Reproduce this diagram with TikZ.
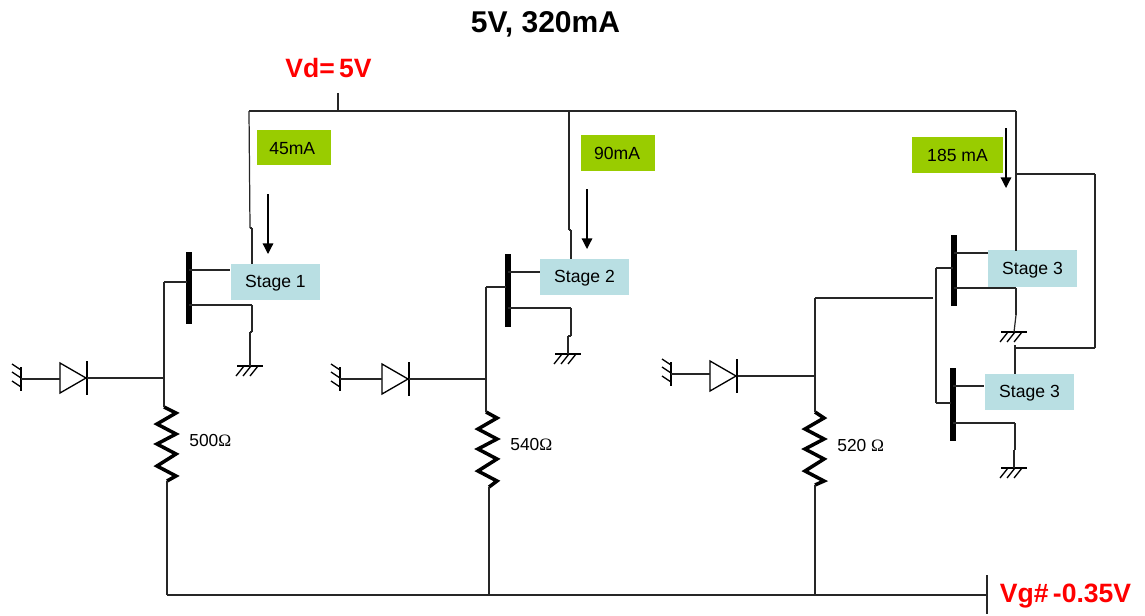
\documentclass[tikz,border=0pt]{standalone}
\usepackage{fontspec}
\setmainfont{Liberation Sans}
\newfontfamily\ohmfont{Liberation Serif}
\usetikzlibrary{arrows.meta}
\definecolor{labelgreen}{HTML}{99CC00}
\definecolor{stageblue}{HTML}{B9DFE3}
\tikzstyle{wire} = [draw,line width=0.7pt,black!85]
\tikzstyle{gatebar} = [draw,line width=3pt,black]
\tikzstyle{resistor} = [draw,line width=2pt,black,line join=miter]
\tikzstyle{current} = [draw,line width=0.7pt,-{Triangle[length=6pt,width=6pt]}]
\tikzstyle{stagebox} = [fill=stageblue,minimum width=51pt,minimum height=20.5pt,inner sep=0pt,text height=6.8pt,text depth=0pt,font=\fontsize{10}{11}\selectfont]
\tikzstyle{currentbox} = [fill=labelgreen,minimum height=20pt,inner sep=0pt,text height=7.5pt,text depth=0pt,font=\fontsize{10}{11}\selectfont]
\tikzstyle{value} = [font=\fontsize{9.9}{11}\selectfont,anchor=west,inner sep=0pt]
\tikzstyle{rail} = [font=\bfseries\fontsize{15.1}{17}\selectfont,text=red,inner sep=0pt,text height=10.8pt,text depth=0pt]
\tikzset{
  groundmark/.pic={
    \draw[line width=0.75pt] (-13,0) -- (13,0);
    \foreach \x in {-6,1,8} \draw[line width=0.75pt] (\x,0) -- ++(-8,10);
  },
  sidemark/.pic={
    \draw[line width=0.75pt] (0,-12) -- (0,12);
    \foreach \y in {-9,-1,8} \draw[line width=0.75pt] (0,\y) -- ++(-9,-6);
  },
  diodemark/.pic={
    \draw[line width=0.75pt] (0,-15) -- (0,15) -- (26,0) -- cycle;
    \draw[line width=0.75pt] (27,-17) -- (27,17);
  }
}
\begin{document}
\begin{tikzpicture}[x=0.02cm,y=-0.02cm]
    \useasboundingbox (0,0) rectangle (1145,615);
    % First we draw the labels
    \node[inner sep=0pt,text height=12.2pt,text depth=0pt,font=\bfseries\fontsize{17.1}{18}\selectfont] (title) at (545.5,22) {5V, 320mA};
    \node[rail] (vd) at (328.5,68.5) {Vd=\,5V};
    \node[rail] (vg) at (1065.5,593.5) {Vg\#\,-0.35V};

    \foreach \pos/\name/\label in {{(275.5,282)/stageA/Stage 1}, {(584.5,277)/stageB/Stage 2},
    {(1032.5,268.5)/stageC/Stage 3}, {(1029.5,392)/stageD/Stage 3}}
        \node[stagebox] (\name) at \pos {\label};

    \node[currentbox,minimum width=42pt] (iA) at (294,147.5) {\kern-2pt 45mA};
    \node[currentbox,minimum width=42pt] (iB) at (618,153) {\kern-1pt 90mA};
    \node[currentbox,minimum width=51.5pt] (iC) at (957.5,155) {185 mA};

    \node[value] (ohmA) at (189,441) {500{\ohmfont Ω}};
    \node[value] (ohmB) at (510,445) {540{\ohmfont Ω}};
    \node[value] (ohmC) at (837,446) {520 {\ohmfont Ω}};

    % Then the named points of the network
    \foreach \pos/\name in {{(338,93)/vdend}, {(338,111)/vdtap}, {(249,111)/topA}, {(569,111)/topB}, {(1016,111)/topC},
    {(250,228)/jogAt}, {(252,228)/jogAb}, {(252,264)/drainA},
    {(569,230)/jogBt}, {(571,230)/jogBb}, {(571,259)/drainB},
    {(1016,251)/drainC}, {(1015,374)/drainD},
    {(189,252)/barAt}, {(189,324)/barAb}, {(508,254)/barBt}, {(508,327)/barBb},
    {(954,235)/barCt}, {(954,306)/barCb}, {(953,368)/barDt}, {(953,441)/barDb},
    {(189,270)/dA}, {(230,270)/dAe}, {(508,272)/dB}, {(540,272)/dBe},
    {(954,253)/dC}, {(988,253)/dCe}, {(953,386)/dD}, {(984,386)/dDe},
    {(189,305)/sA}, {(252,305)/sAc}, {(252,332)/jogAs}, {(250,332)/jogAg}, {(250,366)/gndA},
    {(508,308)/sB}, {(571,308)/sBc}, {(571,336)/jogBs}, {(568,336)/jogBg}, {(568,354)/gndB},
    {(954,288)/sC}, {(1016,288)/sCc}, {(1016,315)/jogCs}, {(1014,332)/gndC},
    {(953,423)/sD}, {(1015,423)/sDc}, {(1015,450)/jogDs}, {(1014,450)/jogDg}, {(1014,468)/gndD},
    {(187,282)/gA}, {(164,282)/gAc}, {(164,378)/jA},
    {(506,287)/gB}, {(486,287)/gBc}, {(486,379)/jB},
    {(953,268)/gC}, {(936,268)/gCc}, {(936,403)/gDc}, {(951,403)/gD},
    {(933,298)/gE}, {(815,298)/gEc}, {(815,376)/jC},
    {(164,407)/rAt}, {(167,481)/rAb}, {(486,412)/rBt}, {(489,487)/rBb}, {(815,412)/rCt}, {(815,485)/rCb},
    {(167,595)/botA}, {(489,595)/botB}, {(815,595)/botC}, {(987,595)/botD}, {(987,575)/vgt}, {(987,614)/vgb},
    {(1017,174)/loopA}, {(1095,174)/loopB}, {(1095,348)/loopC}, {(1015,348)/loopD}, {(1015,345)/loopE},
    {(87,378)/cathA}, {(409,379)/cathB}, {(738,376)/cathC},
    {(60,378)/anodeA}, {(382,379)/anodeB}, {(710,376)/anodeC},
    {(60,379)/inA}, {(382,379)/inB}, {(710,374)/inC},
    {(21,379)/sideA}, {(340,379)/sideB}, {(671,374)/sideC},
    {(268,194)/aAt}, {(268,254)/aAb}, {(587,189)/aBt}, {(587,249)/aBb}, {(1006,128)/aCt}, {(1006,188)/aCb}}
        \node[coordinate] (\name) at \pos {};

    % Draw the symbols
    \foreach \a in {A,B,C}
        \pic at (anode\a) {diodemark};
    \foreach \a in {A,B,C}
        \pic at (side\a) {sidemark};
    \foreach \a in {A,B,C,D}
        \pic at (gnd\a) {groundmark};
    \foreach \a in {A,B,C,D}
        \path[gatebar] (bar\a t) -- (bar\a b);
    \foreach \a/\dx in {A/12,B/11,C/9}
        \path[resistor] (r\a t) -- ++(\dx,6) -- ++(-19,11) -- ++(19,10) -- ++(-19,10) -- ++(19,10) -- ++(-19,12) -- ++(19,10) -- (r\a b);

    % Connect points with wires
    \foreach \source/ \dest in {topA/topC, vdend/vdtap, topA/jogAt, jogAt/jogAb, jogAb/drainA,
    topB/jogBt, jogBt/jogBb, jogBb/drainB, topC/drainC, loopE/drainD,
    dA/dAe, dB/dBe, dC/dCe, dD/dDe, sA/sAc, sAc/jogAs, jogAs/jogAg, jogAg/gndA,
    sB/sBc, sBc/jogBs, jogBs/jogBg, jogBg/gndB, sC/sCc, sCc/jogCs, jogCs/gndC,
    sD/sDc, sDc/jogDs, jogDs/jogDg, jogDg/gndD,
    gA/gAc, gAc/jA, jA/rAt, gB/gBc, gBc/jB, jB/rBt, gC/gCc, gCc/gDc, gDc/gD, gE/gEc, gEc/jC, jC/rCt,
    rAb/botA, rBb/botB, rCb/botC, botA/botD, vgt/vgb,
    loopA/loopB, loopB/loopC, loopC/loopD,
    cathA/jA, cathB/jB, cathC/jC, sideA/inA, sideB/inB, sideC/inC}
        \path[wire] (\source) -- (\dest);

    % Current arrows
    \foreach \a in {A,B,C}
        \path[current] (a\a t) -- (a\a b);
\end{tikzpicture}
\end{document}
